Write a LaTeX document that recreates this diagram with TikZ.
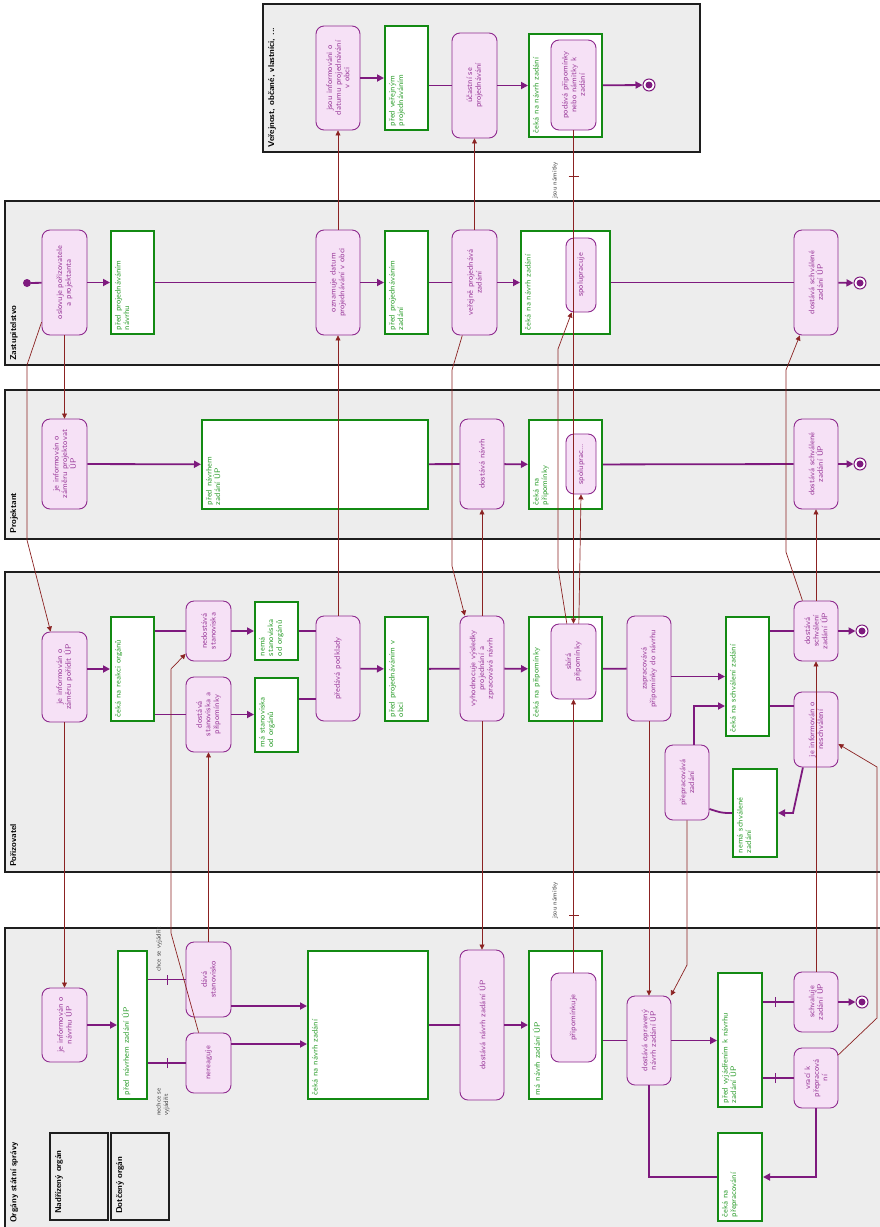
\documentclass[tikz,border=0pt]{standalone}
\usepackage{fontspec}
\usepackage{graphicx}
\usetikzlibrary{arrows.meta,decorations.markings}
\definecolor{LaneFill}{HTML}{EDEDED}
\definecolor{LaneLine}{HTML}{1E1E1E}
\definecolor{ActFill}{HTML}{F6E1F6}
\definecolor{ActLine}{HTML}{8E2A8E}
\definecolor{ActText}{HTML}{9A3A9A}
\definecolor{StateLine}{HTML}{138A13}
\definecolor{StateText}{HTML}{2E9E2E}
\definecolor{FlowPurple}{HTML}{7E1A7E}
\definecolor{SignalRed}{HTML}{8B2222}
\definecolor{GuardText}{HTML}{444444}
\newcommand{\actlbl}[2]{\rotatebox{90}{\parbox{\dimexpr#1pt-6pt\relax}{\centering #2}}}
\newcommand{\stlbl}[3]{\rotatebox{90}{\parbox[c][\dimexpr#2pt-8pt\relax][t]{\dimexpr#1pt-8pt\relax}{\raggedright #3}}}
\tikzset{
  lane/.style={draw=LaneLine,fill=LaneFill,line width=2pt},
  sublane/.style={draw=LaneLine,line width=2pt},
  lanelbl/.style={rotate=90,anchor=north west,inner sep=0pt,font=\sffamily\bfseries\fontsize{8.5}{10}\selectfont},
  act/.style={draw=ActLine,fill=ActFill,line width=0.9pt,rounded corners=8pt,inner sep=0pt,text=ActText,font=\sffamily\fontsize{8}{8.6}\selectfont},
  stbox/.style={draw=StateLine,fill=white,line width=2pt,inner sep=4pt,text=StateText,font=\sffamily\fontsize{8}{8.6}\selectfont},
  startnode/.style={circle,fill=FlowPurple,inner sep=0pt,minimum size=8pt},
  endnode/.style={circle,draw=FlowPurple,fill=white,line width=1pt,inner sep=0pt,minimum size=12pt,
    path picture={\fill[FlowPurple] (path picture bounding box.center) circle (3.5pt);}},
  flowline/.style={FlowPurple,line width=1.8pt},
  flow/.style={flowline,-{Triangle[length=7pt,width=7pt]}},
  sig/.style={SignalRed,line width=0.7pt,-{Triangle[length=5pt,width=5pt]}},
  guard/.style={postaction={decorate},decoration={markings,mark=at position #1 with {\draw[-,line width=0.8pt] (0,-5pt) -- (0,5pt);}}},
  guardlbl/.style={rotate=90,anchor=north west,inner sep=0pt,text=GuardText,font=\sffamily\fontsize{6.5}{7.5}\selectfont,align=left},
}
\begin{document}
\begin{tikzpicture}[x=1pt,y=-1pt]
 \useasboundingbox (0,0) rectangle (879,1227);
 \fill[white] (0,0) rectangle (879,1227);
 % swimlanes
 \draw[lane] (263,4) rectangle (700,152);
 \draw[lane] (5,201) rectangle (892,365);
 \draw[lane] (5,390) rectangle (892,539);
 \draw[lane] (5,572) rectangle (892,872);
 \draw[lane] (5,928) rectangle (892,1240);
 \draw[sublane] (50,1133) rectangle (108,1220);
 \draw[sublane] (111,1133) rectangle (169,1220);
 \node[lanelbl] (lPub) at (268,148) {Veřejnost, občané, vlastníci, ...};
 \node[lanelbl] (lZast) at (10,361) {Zastupitelstvo};
 \node[lanelbl] (lProj) at (10,534) {Projektant};
 \node[lanelbl] (lPor) at (10,867) {Pořizovatel};
 \node[lanelbl] (lOrg) at (10,1223) {Orgány státní správy};
 \node[lanelbl] (lNad) at (55,1214) {Nadřízený orgán};
 \node[lanelbl] (lDot) at (116,1214) {Dotčený orgán};
 % verejnost
 \node[stbox,minimum width=43,minimum height=104] (sPubBefore) at (406.5,78) {\stlbl{104}{43}{před veřejným\\projednáváním}};
 \node[stbox,minimum width=73,minimum height=103] (sPubWait) at (565.5,85.5) {\stlbl{103}{73}{čeká na návrh zadání}};
 \node[act,minimum width=44,minimum height=104] (pubInf) at (338,78) {\actlbl{104}{jsou informováni o\\datumu projednávání\\v obci}};
 \node[act,minimum width=45,minimum height=105] (pubPart) at (474.5,85.5) {\actlbl{105}{účastní se\\projednávání}};
 \node[act,minimum width=45,minimum height=90] (pubNam) at (573.5,85) {\actlbl{90}{podává připomínky\\nebo námitky k\\zadání}};
 \node[endnode] (fPub) at (649,85) {};
 % zastupitelstvo
 \node[startnode] (iZ) at (27,283) {};
 \node[act,minimum width=45,minimum height=105] (zOsl) at (64.5,282.5) {\actlbl{105}{oslovuje pořizovatele\\a projektanta}};
 \node[stbox,minimum width=43,minimum height=103] (sZBefN) at (132.5,282.5) {\stlbl{103}{43}{před projednáváním\\návrhu}};
 \node[act,minimum width=44,minimum height=105] (zOzn) at (338,282.5) {\actlbl{105}{oznamuje datum\\projednávání v obci}};
 \node[stbox,minimum width=43,minimum height=103] (sZBefZ) at (406.5,282.5) {\stlbl{103}{43}{před projednáváním\\zadání}};
 \node[act,minimum width=45,minimum height=105] (zVer) at (474.5,282.5) {\actlbl{105}{veřejně projednává\\zadání}};
 \node[stbox,minimum width=89,minimum height=103] (sZWait) at (565.5,282.5) {\stlbl{103}{89}{čeká na návrh zadání}};
 \node[act,minimum width=30,minimum height=74] (zSpol) at (581,275) {\actlbl{74}{spolupracuje}};
 \node[act,minimum width=44,minimum height=105] (zDost) at (816,282.5) {\actlbl{105}{dostává schválené\\zadání ÚP}};
 \node[endnode] (fZ) at (860,283) {};
 % projektant
 \node[act,minimum width=45,minimum height=90] (pInf) at (64.5,464) {\actlbl{90}{je informován o\\záměru projektovat\\ÚP}};
 \node[stbox,minimum width=226,minimum height=89] (sPBef) at (315,464.5) {\stlbl{89}{226}{před návrhem\\zadání ÚP}};
 \node[act,minimum width=44,minimum height=90] (pDost) at (482,464) {\actlbl{90}{dostává návrh}};
 \node[stbox,minimum width=73,minimum height=89] (sPWait) at (565.5,464.5) {\stlbl{89}{73}{čeká na\\připomínky}};
 \node[act,minimum width=30,minimum height=60] (pSpol) at (581,464) {\actlbl{60}{spoluprac...}};
 \node[act,minimum width=44,minimum height=90] (pDostS) at (816,464) {\actlbl{90}{dostává schválené\\zadání ÚP}};
 \node[endnode] (fP) at (860,464) {};
 % porizovatel
 \node[act,minimum width=45,minimum height=90] (rInf) at (64.5,677) {\actlbl{90}{je informován o\\záměru pořídit ÚP}};
 \node[stbox,minimum width=43,minimum height=104] (sRReak) at (132.5,669) {\stlbl{104}{43}{čeká na reakci orgánů}};
 \node[act,minimum width=45,minimum height=60] (rNed) at (208.5,631) {\actlbl{60}{nedostává\\stanoviska}};
 \node[act,minimum width=45,minimum height=75] (rDost) at (208.5,714.5) {\actlbl{75}{dostává\\stanoviska a\\připomínky}};
 \node[stbox,minimum width=43,minimum height=58] (sRNema) at (276.5,631) {\stlbl{58}{43}{nemá\\stanoviska\\od orgánů}};
 \node[stbox,minimum width=43,minimum height=74] (sRMa) at (276.5,714.5) {\stlbl{74}{43}{má stanoviska\\od orgánů}};
 \node[act,minimum width=44,minimum height=105] (rPred) at (338,668.5) {\actlbl{105}{předává podklady}};
 \node[stbox,minimum width=43,minimum height=104] (sRBefObec) at (406.5,669) {\stlbl{104}{43}{před projednáváním v\\obci}};
 \node[act,minimum width=44,minimum height=105] (rVyh) at (482,668.5) {\actlbl{105}{vyhodnocuje výsledky\\projednání a\\zpracovává návrh}};
 \node[stbox,minimum width=73,minimum height=104] (sRWaitPrip) at (565.5,669) {\stlbl{104}{73}{čeká na připomínky}};
 \node[act,minimum width=45,minimum height=75] (rSbira) at (573.5,661.5) {\actlbl{75}{sbírá\\připomínky}};
 \node[act,minimum width=44,minimum height=105] (rZapr) at (649,668.5) {\actlbl{105}{zapracovává\\připomínky do návrhu}};
 \node[stbox,minimum width=43,minimum height=119] (sRWaitSchv) at (747.5,676.5) {\stlbl{119}{43}{čeká na schválení zadání}};
 \node[act,minimum width=44,minimum height=60] (rDostSchv) at (816,631) {\actlbl{60}{dostává\\schválení\\zadání ÚP}};
 \node[endnode] (fR) at (862,631) {};
 \node[act,minimum width=44,minimum height=75] (rNeschv) at (816,729.5) {\actlbl{75}{je informován o\\neschválení}};
 \node[act,minimum width=44,minimum height=75] (rPrepr) at (687,782.5) {\actlbl{75}{přepracovává\\zadání}};
 \node[stbox,minimum width=44,minimum height=88] (sRNemaSchv) at (755,813) {\stlbl{88}{44}{nemá schválené\\zadání}};
 % organy statni spravy
 \node[act,minimum width=45,minimum height=74] (oInf) at (64.5,1025) {\actlbl{74}{je informován o\\návrhu ÚP}};
 \node[stbox,minimum width=29,minimum height=148] (sOBef) at (132.5,1025) {\stlbl{148}{29}{před návrhem zadání ÚP}};
 \node[act,minimum width=45,minimum height=75] (oDava) at (208.5,979.5) {\actlbl{75}{dává\\stanovisko}};
 \node[act,minimum width=45,minimum height=60] (oNer) at (208.5,1063) {\actlbl{60}{nereaguje}};
 \node[stbox,minimum width=120,minimum height=148] (sOWait) at (368,1025) {\stlbl{148}{120}{čeká na návrh zadání}};
 \node[act,minimum width=44,minimum height=150] (oDost) at (482,1025) {\actlbl{150}{dostává návrh zadání ÚP}};
 \node[stbox,minimum width=73,minimum height=148] (sOMa) at (565.5,1025) {\stlbl{148}{73}{má návrh zadání ÚP}};
 \node[act,minimum width=45,minimum height=89] (oPrip) at (573.5,1017.5) {\actlbl{89}{připomínkuje}};
 \node[act,minimum width=44,minimum height=89] (oOpr) at (649,1040.5) {\actlbl{89}{dostává opravený\\návrh zadání ÚP}};
 \node[stbox,minimum width=44,minimum height=134] (sOBefVyj) at (740,1040) {\stlbl{134}{44}{před vyjádřením k návrhu\\zadání ÚP}};
 \node[act,minimum width=44,minimum height=60] (oSchv) at (816,1002) {\actlbl{60}{schvaluje\\zadání ÚP}};
 \node[endnode] (fO) at (862,1002) {};
 \node[act,minimum width=44,minimum height=60] (oVraci) at (816,1078) {\actlbl{60}{vrací k\\přepracová\\ní}};
 \node[stbox,minimum width=44,minimum height=88] (sOWaitPrep) at (740,1177) {\stlbl{88}{44}{čeká na\\přepracování}};
 % guards
 \node[guardlbl] (gNam1) at (552,199) {jsou námitky};
 \node[guardlbl] (gNam2) at (552,919) {jsou námitky};
 \node[guardlbl] (gChce) at (156,972) {chce se vyjádřit};
 \node[guardlbl] (gNechce) at (156,1116) {nechce se\\vyjádřit};
 % flows
 \draw[flow] (pubInf) -- (sPubBefore);
 \draw[flowline] (sPubBefore.east |- pubPart) -- (pubPart);
 \draw[flow] (pubPart) -- (sPubWait);
 \draw[flow] (sPubWait) -- (fPub);
 \draw[flowline] (iZ) -- (zOsl);
 \draw[flow] (zOsl) -- (sZBefN);
 \draw[flowline] (sZBefN) -- (zOzn);
 \draw[flow] (zOzn) -- (sZBefZ);
 \draw[flowline] (sZBefZ) -- (zVer);
 \draw[flow] (zVer) -- (sZWait);
 \draw[flowline] (sZWait) -- (zDost);
 \draw[flow] (zDost) -- (fZ);
 \draw[flow] (pInf) -- (sPBef);
 \draw[flowline] (sPBef) -- (pDost);
 \draw[flow] (pDost) -- (sPWait);
 \draw[flowline] (sPWait) -- (pDostS);
 \draw[flow] (pDostS) -- (fP);
 \draw[flow] (rInf.east |- sRReak) -- (sRReak);
 \draw[flowline] (sRReak.east |- rNed) -- (rNed);
 \draw[flow] (rNed) -- (sRNema);
 \draw[flowline] (sRReak.east |- rDost) -- (rDost);
 \draw[flow] (rDost) -- (sRMa);
 \draw[flowline] (sRNema) -- (rPred.west |- sRNema);
 \draw[flowline] (sRMa.east |- 0,699) -- (rPred.west |- 0,699);
 \draw[flow] (rPred) -- (sRBefObec);
 \draw[flowline] (sRBefObec) -- (rVyh);
 \draw[flow] (rVyh) -- (sRWaitPrip);
 \draw[flowline] (sRWaitPrip) -- (rZapr);
 \draw[flow] (rZapr.east |- sRWaitSchv) -- (sRWaitSchv);
 \draw[flow] (rPrepr.north -| 694,0) |- (sRWaitSchv.west |- 0,706);
 \draw[flowline] (sRWaitSchv.east |- rDostSchv) -- (rDostSchv);
 \draw[flowline] (sRWaitSchv.east |- 0,706) -- (rNeschv.west |- 0,706);
 \draw[flow] (rDostSchv) -- (fR);
 \draw[flow] (rNeschv.251) -- (793,813) -- (sRNemaSchv.east |- 0,813);
 \draw[flowline] (sRNemaSchv.west |- 0,813) .. controls (722,813) .. (rPrepr.east |- 0,809);
 \draw[flow] (oInf) -- (sOBef);
 \draw[flowline,guard=0.51] (sOBef.east |- oDava) -- (oDava);
 \draw[flowline,guard=0.51] (sOBef.east |- oNer) -- (oNer);
 \draw[flow] (oDava.east |- 0,1006) -- (sOWait.west |- 0,1006);
 \draw[flow] (oNer.east |- 0,1044) -- (sOWait.west |- 0,1044);
 \draw[flowline] (sOWait) -- (oDost);
 \draw[flow] (oDost) -- (sOMa);
 \draw[flowline] (sOMa.east |- oOpr) -- (oOpr);
 \draw[flow] (oOpr) -- (sOBefVyj.west |- oOpr);
 \draw[flowline,guard=0.41] (sOBefVyj.east |- oSchv) -- (oSchv);
 \draw[flowline,guard=0.41] (sOBefVyj.east |- oVraci) -- (oVraci);
 \draw[flow] (oSchv) -- (fO);
 \draw[flow] (oVraci.south) |- (sOWaitPrep.east);
 \draw[flowline] (sOWaitPrep.west) -| (oOpr.south);
 % signals between lanes
 \draw[sig] (zOsl) -- (pInf);
 \draw[sig] (zOsl.240) -- (27,365) -- (27,540) -- (rInf.107);
 \draw[sig] (rInf) -- (oInf);
 \draw[sig] (oNer.108) -- (171,933) -- (171,669) -- (rNed.225);
 \draw[sig] (oDava) -- (rDost);
 \draw[sig] (rPred) -- (zOzn);
 \draw[sig] (zOzn) -- (pubInf);
 \draw[sig] (zVer) -- (pubPart);
 \draw[sig] (zVer.257) -- (452,370) -- (452,566) -- (rVyh.108);
 \draw[sig] (rVyh) -- (pDost);
 \draw[sig] (rVyh) -- (oDost);
 \draw[sig,guard=0.093] (pubNam) -- (rSbira);
 \draw[sig] (rSbira.100) -- (558,568) -- (558,349) -- (zSpol.256);
 \draw[sig] (rSbira.82) -- (pSpol.south);
 \draw[sig,guard=0.208] (oPrip) -- (rSbira);
 \draw[sig] (rZapr) -- (oOpr);
 \draw[sig] (rPrepr.south) -- (687,965) -- (oOpr.64);
 \draw[sig] (oSchv) -- (rDostSchv);
 \draw[sig] (oVraci.46) -- (877,1018) -- (877,767) -- (rNeschv.-33);
 \draw[sig] (rDostSchv.114) -- (786,552) -- (786,370) -- (zDost.253);
 \draw[sig] (rDostSchv) -- (pDostS);
\end{tikzpicture}
\end{document}
